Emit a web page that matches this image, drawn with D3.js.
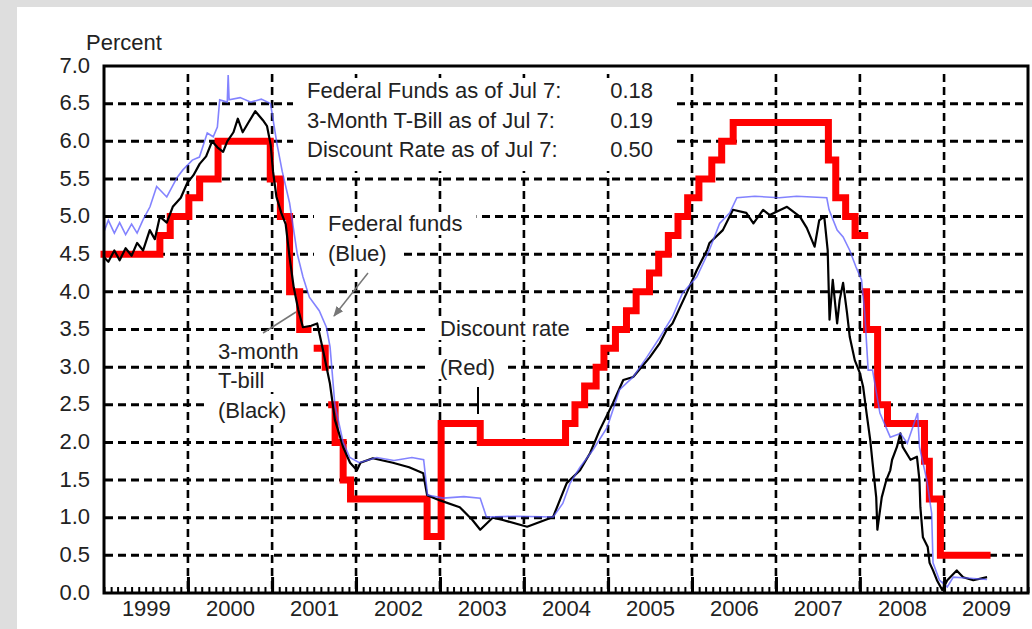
<!DOCTYPE html>
<html><head><meta charset="utf-8">
<script src="https://cdn.jsdelivr.net/npm/d3@7"></script>
<style>
html,body{margin:0;padding:0;background:#dedede;}
svg{display:block;}
</style></head><body>
<svg id="chart" width="1032" height="629"></svg>
<script>
// ---------- data ----------
const years = [1999,2000,2001,2002,2003,2004,2005,2006,2007,2008,2009];
const yTicks = [0,0.5,1,1.5,2,2.5,3,3.5,4,4.5,5,5.5,6,6.5,7];
const yLabel = "Percent";

const fedFunds = [
["1999-01-01",4.80],["1999-01-20",4.95],["1999-02-15",4.78],["1999-03-10",4.92],["1999-04-05",4.76],
["1999-05-01",4.90],["1999-05-25",4.78],["1999-06-20",4.96],["1999-07-20",5.13],["1999-08-18",5.40],
["1999-10-01",5.26],["1999-11-15",5.52],["1999-12-10",5.62],["2000-01-20",5.75],["2000-02-20",5.79],
["2000-03-25",6.11],["2000-04-20",6.06],["2000-05-08",6.19],["2000-05-18",6.55],["2000-06-20",6.52],
["2000-06-24",6.88],["2000-06-28",6.55],["2000-08-15",6.58],["2000-10-01",6.52],["2000-11-15",6.56],
["2000-12-25",6.50],["2001-01-22",5.97],["2001-02-14",5.60],["2001-03-18",5.18],["2001-04-20",4.51],
["2001-05-15",4.20],["2001-06-12",3.93],["2001-07-25",3.75],["2001-08-25",3.53],["2001-09-10",3.27],
["2001-10-01",2.50],["2001-11-06",2.00],["2001-12-05",1.80],["2002-01-15",1.73],["2002-04-01",1.80],
["2002-06-15",1.76],["2002-09-01",1.80],["2002-10-22",1.77],["2002-11-08",1.30],["2003-01-15",1.26],
["2003-04-15",1.28],["2003-06-25",1.26],["2003-07-22",1.01],["2003-12-01",1.02],["2004-05-07",1.01],
["2004-06-18",1.19],["2004-07-20",1.46],["2004-09-01",1.67],["2004-10-27",1.90],["2004-12-28",2.20],
["2005-02-20",2.70],["2005-04-20",2.87],["2005-06-18",3.13],["2005-08-15",3.40],["2005-10-08",3.67],
["2005-11-20",3.98],["2006-01-22",4.20],["2006-03-18",4.56],["2006-05-01",4.91],["2006-06-14",5.05],
["2006-07-15",5.25],["2006-10-01",5.27],["2007-01-15",5.25],["2007-04-01",5.27],["2007-08-10",5.25],
["2007-08-20",5.09],["2007-09-24",4.82],["2007-10-20",4.73],["2007-11-18",4.55],["2007-12-15",4.33],
["2008-01-08",4.16],["2008-01-22",3.72],["2008-02-06",2.96],["2008-02-25",2.96],["2008-03-28",2.39],
["2008-05-12",2.07],["2008-06-25",2.12],["2008-07-25",1.99],["2008-09-08",2.39],["2008-09-16",1.94],
["2008-10-18",1.50],["2008-11-08",1.06],["2008-11-14",0.40],["2008-12-12",0.17],["2009-01-15",0.08],
["2009-02-10",0.21],["2009-04-08",0.20],["2009-07-07",0.18]
];

const tBill = [
["1999-01-01",4.46],["1999-01-20",4.40],["1999-02-15",4.55],["1999-03-10",4.42],["1999-04-05",4.58],
["1999-05-01",4.48],["1999-05-25",4.65],["1999-06-20",4.55],["1999-07-19",4.82],["1999-08-10",4.70],
["1999-09-01",5.00],["1999-10-01",4.92],["1999-10-27",5.13],["1999-12-01",5.25],["1999-12-28",5.44],
["2000-01-25",5.55],["2000-02-21",5.70],["2000-03-20",5.80],["2000-04-15",6.00],["2000-05-08",5.92],
["2000-06-02",5.86],["2000-06-20",6.00],["2000-07-17",6.12],["2000-08-05",6.30],["2000-08-26",6.12],
["2000-09-20",6.25],["2000-10-20",6.40],["2000-11-22",6.28],["2000-12-10",6.20],["2000-12-26",5.95],
["2001-01-05",5.60],["2001-01-20",5.26],["2001-02-10",5.05],["2001-03-01",4.90],["2001-03-18",4.46],
["2001-04-05",4.06],["2001-04-25",3.76],["2001-05-15",3.53],["2001-06-20",3.55],["2001-07-16",3.58],
["2001-08-10",3.23],["2001-09-09",2.79],["2001-10-01",2.30],["2001-11-06",1.94],["2001-12-06",1.73],
["2002-01-05",1.63],["2002-01-20",1.73],["2002-03-15",1.79],["2002-06-10",1.73],["2002-08-20",1.67],
["2002-10-20",1.59],["2002-11-06",1.30],["2003-01-01",1.23],["2003-03-28",1.14],["2003-05-22",0.97],
["2003-06-25",0.84],["2003-08-18",1.00],["2003-10-01",0.97],["2004-01-15",0.88],["2004-05-07",1.01],
["2004-06-10",1.27],["2004-07-05",1.46],["2004-09-01",1.63],["2004-10-15",1.86],["2004-11-25",2.16],
["2005-01-22",2.52],["2005-03-08",2.83],["2005-04-20",2.87],["2005-07-01",3.13],["2005-08-14",3.32],
["2005-09-12",3.49],["2005-10-08",3.58],["2005-12-08",3.98],["2006-01-22",4.29],["2006-03-08",4.56],
["2006-03-18",4.65],["2006-05-15",4.82],["2006-06-28",5.09],["2006-08-25",5.05],["2006-09-25",4.91],
["2006-11-06",5.09],["2006-12-05",5.02],["2007-02-18",5.13],["2007-04-15",5.00],["2007-05-15",4.85],
["2007-06-18",4.60],["2007-07-08",4.95],["2007-07-30",5.00],["2007-08-14",4.55],["2007-08-22",3.63],
["2007-09-05",4.16],["2007-09-24",3.58],["2007-10-05",3.89],["2007-10-20",4.12],["2007-11-06",3.72],
["2007-11-18",3.40],["2007-12-10",3.09],["2008-01-01",2.92],["2008-01-15",2.74],["2008-01-30",2.39],
["2008-02-15",2.03],["2008-02-25",1.73],["2008-03-12",1.27],["2008-03-17",0.84],["2008-04-05",1.27],
["2008-04-25",1.50],["2008-05-12",1.63],["2008-05-20",1.77],["2008-06-10",1.94],["2008-06-25",2.12],
["2008-07-05",1.94],["2008-08-08",1.77],["2008-09-05",1.81],["2008-09-16",1.50],["2008-09-20",1.14],
["2008-10-01",0.74],["2008-10-22",0.61],["2008-10-30",0.40],["2008-11-14",0.30],["2008-12-01",0.17],
["2008-12-24",0.04],["2009-01-15",0.17],["2009-02-25",0.30],["2009-03-25",0.21],["2009-05-08",0.17],
["2009-07-07",0.21]
];

// step series; null marks a break in the drawn line
const discountRate = [
["1999-01-01",4.50],["1999-09-01",4.75],["1999-10-16",5.00],["2000-01-05",5.25],["2000-02-21",5.50],
["2000-05-11",6.00],["2000-12-24",5.50],["2001-02-06",5.00],["2001-03-18",4.00],["2001-05-01",3.50],
["2001-06-06",3.50],["2001-06-07",null],["2001-07-16",3.25],["2001-08-20",3.00],["2001-08-21",null],
["2001-09-17",2.50],["2001-10-02",2.00],["2001-11-06",1.50],["2001-12-08",1.25],["2002-11-06",0.75],
["2003-01-06",2.25],["2003-06-25",2.00],["2004-06-30",2.25],["2004-08-10",2.50],["2004-09-21",2.75],
["2004-11-10",3.00],["2004-12-14",3.25],["2005-02-02",3.50],["2005-03-22",3.75],["2005-05-03",4.00],
["2005-06-30",4.25],["2005-08-09",4.50],["2005-09-20",4.75],["2005-11-01",5.00],["2005-12-13",5.25],
["2006-01-31",5.50],["2006-03-28",5.75],["2006-05-10",6.00],["2006-06-29",6.25],["2007-08-17",5.75],
["2007-09-18",5.25],["2007-10-31",5.00],["2007-12-11",4.75],["2008-01-22",4.75],["2008-01-23",null],
["2008-01-25",4.00],["2008-01-30",3.50],["2008-03-18",2.50],["2008-04-30",2.25],["2008-10-08",1.75],
["2008-10-29",1.25],["2008-12-16",0.50],["2009-07-07",0.50]
];

const asOfLabels = ["Federal Funds as of Jul 7:", "3-Month T-Bill as of Jul 7:", "Discount Rate as of Jul 7:"];
const asOfValues = ["0.18", "0.19", "0.50"];
const fedLabel = ["Federal funds", "(Blue)"];
const discLabel = ["Discount rate", "(Red)"];
const billLabel = ["3-month", "T-bill", "(Black)"];

// ---------- drawing ----------
const FONT = '"Liberation Sans", Arial, Helvetica, sans-serif';
const FS = 22;
const svg = d3.select("#chart");
const parse = d3.timeParse("%Y-%m-%d");
const L = 104, R = 1028, T = 66, B = 593;

svg.append("rect").attr("width",1032).attr("height",629).attr("fill","#dedede");
svg.append("rect").attr("x",17).attr("y",7).attr("width",1015).attr("height",622).attr("fill","#fff");

const x = d3.scaleTime().domain([new Date(1999,0,1), new Date(2010,0,1)]).range([L, R]);
const y = d3.scaleLinear().domain([0, 7]).range([B, T]);

// grid
const grid = svg.append("g").attr("stroke","#000").attr("stroke-width",3).attr("stroke-dasharray","8,5");
grid.selectAll("line.h").data(yTicks.filter(v => v > 0 && v < 7)).join("line")
  .attr("x1", L + 1).attr("x2", R - 1).attr("y1", d => y(d)).attr("y2", d => y(d));
grid.selectAll("line.v").data(years.slice(1)).join("line")
  .attr("stroke-width",2.6)
  .attr("x1", d => x(new Date(d,0,1))).attr("x2", d => x(new Date(d,0,1)))
  .attr("y1", T + 8).attr("y2", B);

// annotation white box (drawn over grid)
svg.append("rect").attr("x",293).attr("y",78).attr("width",383).attr("height",93).attr("fill","#fff");

function labelBlock(lines, x0, baselines, pad) {
  const g = svg.append("g");
  lines.forEach((t, i) => {
    const tx = g.append("text").attr("x", x0).attr("y", baselines[i]).text(t)
      .attr("font-family", FONT).attr("font-size", FS).attr("fill", "#222");
    const bb = tx.node().getBBox();
    g.insert("rect", "text").attr("x", bb.x - pad).attr("y", bb.y + 1)
      .attr("width", bb.width + 2 * pad).attr("height", bb.height - 2).attr("fill", "#fff");
  });
  return g;
}
const labelLayer = [];
labelLayer.push(labelBlock(fedLabel, 328, [231, 261], 14));
labelLayer.push(labelBlock(discLabel, 440, [336, 375], 13));
labelLayer.push(labelBlock(billLabel, 218, [359, 388, 418], 12));

// series
const disc = discountRate.map(d => ({date: parse(d[0]), v: d[1]}));
const ff = fedFunds.map(d => ({date: parse(d[0]), v: d[1]}));
const tb = tBill.map(d => ({date: parse(d[0]), v: d[1]}));

const stepLine = d3.line().defined(d => d.v !== null).curve(d3.curveStepAfter)
  .x(d => x(d.date)).y(d => y(d.v));
const line = d3.line().x(d => x(d.date)).y(d => y(d.v));

svg.append("path").datum(disc).attr("d", stepLine)
  .attr("fill","none").attr("stroke","#ff0000").attr("stroke-width",7)
  .attr("stroke-linejoin","miter").attr("stroke-linecap","square");
svg.append("path").datum(tb).attr("d", line)
  .attr("fill","none").attr("stroke","#000").attr("stroke-width",2.2).attr("stroke-linejoin","round");
svg.append("path").datum(ff).attr("d", line)
  .attr("fill","none").attr("stroke","#5a5aff").attr("stroke-opacity",0.75).attr("stroke-width",1.6);

// labels on top
labelLayer.forEach(g => g.raise());

// pointer lines
svg.append("defs").append("marker").attr("id","ah").attr("viewBox","0 0 10 10")
  .attr("refX",9).attr("refY",5).attr("markerWidth",7).attr("markerHeight",7).attr("orient","auto")
  .append("path").attr("d","M0,1 L10,5 L0,9 z").attr("fill","#777");
svg.append("line").attr("x1",368).attr("y1",273).attr("x2",334).attr("y2",316)
  .attr("stroke","#777").attr("stroke-width",1.5).attr("marker-end","url(#ah)");
svg.append("line").attr("x1",263).attr("y1",333).attr("x2",296).attr("y2",312)
  .attr("stroke","#777").attr("stroke-width",1.5);
svg.append("line").attr("x1",478).attr("y1",387).attr("x2",478).attr("y2",414)
  .attr("stroke","#000").attr("stroke-width",2);

// as-of table
const tbl = svg.append("g").attr("font-family",FONT).attr("font-size",FS).attr("fill","#222");
asOfLabels.forEach((t,i) => {
  tbl.append("text").attr("x",307).attr("y",98 + i*29.5).text(t);
  tbl.append("text").attr("x",653).attr("y",98 + i*29.5).attr("text-anchor","end").text(asOfValues[i]);
});

// axes
const axMinor = svg.append("g").attr("transform",`translate(0,${B})`)
  .call(d3.axisBottom(x).ticks(d3.timeMonth.every(1)).tickSize(-6).tickFormat(""));
axMinor.select(".domain").remove();
axMinor.selectAll("line").attr("stroke","#000").attr("stroke-width",2);

const axMajor = svg.append("g").attr("transform",`translate(0,${B})`)
  .call(d3.axisBottom(x).tickValues(years.slice(1).map(yr => new Date(yr,0,1))).tickSize(-16).tickFormat(""));
axMajor.select(".domain").remove();
axMajor.selectAll("line").attr("stroke","#000").attr("stroke-width",3);

const axLab = svg.append("g").attr("transform",`translate(0,${B})`)
  .call(d3.axisBottom(x).tickValues(years.map(yr => new Date(yr,6,2))).tickSize(0).tickPadding(7)
    .tickFormat(d3.timeFormat("%Y")));
axLab.select(".domain").remove();
axLab.selectAll("text").attr("font-family",FONT).attr("font-size",FS).attr("fill","#222");

const axY = svg.append("g").attr("transform",`translate(${L},0)`)
  .call(d3.axisLeft(y).tickValues(yTicks).tickSize(0).tickPadding(14).tickFormat(d3.format(".1f")));
axY.select(".domain").remove();
axY.selectAll("text").attr("font-family",FONT).attr("font-size",FS).attr("fill","#222").attr("dy","0.28em");

svg.append("text").attr("x",86).attr("y",50).text(yLabel)
  .attr("font-family",FONT).attr("font-size",FS).attr("fill","#222");

// frame
svg.append("rect").attr("x",L).attr("y",T).attr("width",R-L).attr("height",B-T)
  .attr("fill","none").attr("stroke","#000").attr("stroke-width",3);
</script>
</body></html>
